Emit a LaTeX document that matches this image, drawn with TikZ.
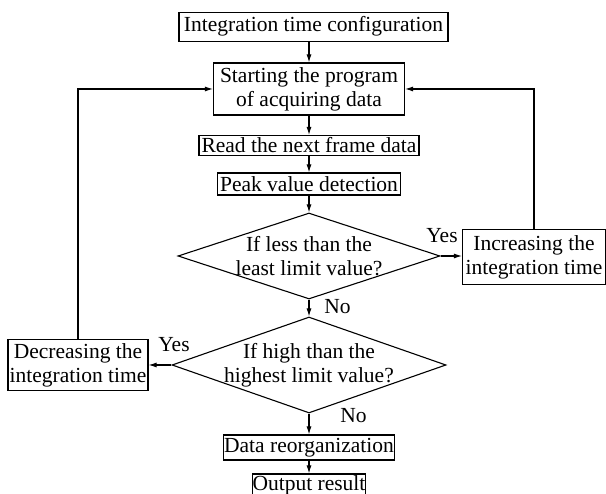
\documentclass[tikz,border=0pt]{standalone}
\usepackage{fontspec}
\setmainfont{Liberation Serif}
\usetikzlibrary{arrows.meta,shapes.geometric}
\tikzset{
  box/.style={draw, line width=1.1pt, inner sep=0pt, align=center},
  dia/.style={draw, diamond, line width=1.1pt, inner sep=-6pt, aspect=3, align=center},
  flow/.style={line width=1.1pt, -{Latex[length=8pt,width=5pt]}},
  lbl/.style={inner sep=0pt}
}

\begin{document}
\begin{tikzpicture}[x=1pt,y=-1pt,every node/.append style={font=\fontsize{21.5}{24}\selectfont}]
  \useasboundingbox (0,0) rectangle (606,494);
  % main column
  \node[box, minimum width=269pt, minimum height=29pt] (cfg) at (313.5,26.7) {Integration time configuration};
  \node[box, minimum width=191pt, minimum height=52pt] (start) at (309,89) {Starting the program\\of acquiring data};
  \node[box, minimum width=220pt, minimum height=20pt] (read) at (309,145.5) {Read the next frame data};
  \node[box, minimum width=183pt, minimum height=22pt] (peak) at (309,184) {Peak value detection};
  \node[dia, minimum width=262pt, minimum height=86pt] (less) at (309,256) {If less than the\\least limit value?};
  \node[dia, minimum width=274pt, minimum height=96pt] (high) at (309,365) {If high than the\\highest limit value?};
  \node[box, minimum width=171pt, minimum height=25pt] (reorg) at (309,447.5) {Data reorganization};
  \node[box, minimum width=113pt, minimum height=22pt] (out) at (309,485) {Output result};
  % side boxes
  \node[box, minimum width=143pt, minimum height=55pt] (inc) at (534,257) {Increasing the\\integration time};
  \node[box, minimum width=140pt, minimum height=51pt] (dec) at (78,365) {Decreasing the\\integration time};
  % branch labels
  \node[lbl] (yes1) at (442,236) {Yes};
  \node[lbl] (no1) at (337.5,306.5) {No};
  \node[lbl] (yes2) at (174,345) {Yes};
  \node[lbl] (no2) at (353.5,416) {No};

  \draw[flow] (cfg.south -| start.north) -- (start.north);
  \draw[flow] (start) -- (read);
  \draw[flow] (read) -- (peak);
  \draw[flow] (peak) -- (less);
  \draw[flow] (less) -- (high);
  \draw[flow] (high) -- (reorg);
  \draw[flow] (reorg) -- (out);
  \draw[flow] (less.east) -- (less.east -| inc.west);
  \draw[flow] (high.west) -- (high.west -| dec.east);
  \draw[flow] (inc.north) |- (start.east);
  \draw[flow] (dec.north) |- (start.west);
\end{tikzpicture}
\end{document}
